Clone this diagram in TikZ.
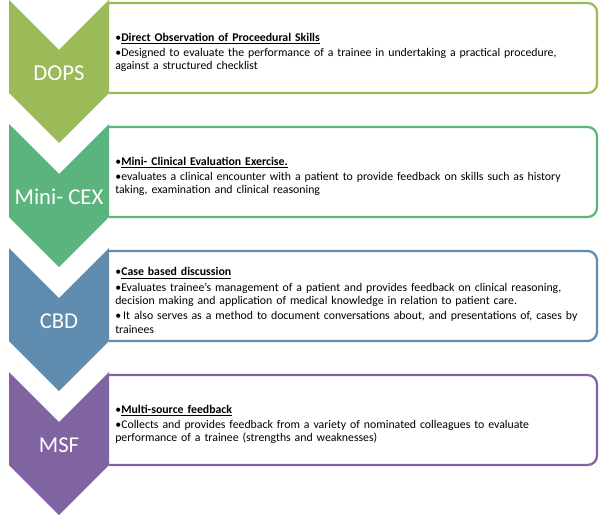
\documentclass[tikz,border=0pt]{standalone}
\usepackage{fontspec}
\setmainfont{Carlito}
\usepackage{tikz}
\usetikzlibrary{positioning}
\definecolor{AsmGreen}{RGB}{155,187,89}
\definecolor{AsmTeal}{RGB}{91,180,125}
\definecolor{AsmBlue}{RGB}{95,140,175}
\definecolor{AsmPurple}{RGB}{128,100,162}
\newcommand{\bitem}[1]{\par\hangindent=4.5pt\hangafter=1\noindent\makebox[4.5pt][l]{\textbullet}#1}

\begin{document}
\begin{tikzpicture}[x=0.75pt, y=-0.75pt,
          card/.style={draw=#1, line width=1.7pt, fill=white, rounded corners=7pt},
          chevlabel/.style={font=\fontsize{17}{20}\selectfont, text=white},
          info/.style={anchor=west, text width=370pt, inner sep=0pt, align=left,
                       font=\fontsize{8.85}{10}\selectfont,
                       execute at begin node={\setlength{\parskip}{1.5pt}}}
        ]
        \useasboundingbox (0,0) rectangle (600,517);

        % cards
        \draw[card=AsmGreen]  (109,3) -- (597,3) -- (597,93) -- (109,93);
        \draw[card=AsmTeal]   (109,127) -- (597,127) -- (597,217) -- (109,217);
        \draw[card=AsmBlue]   (109,251) -- (597,251) -- (597,341) -- (109,341);
        \draw[card=AsmPurple] (109,375) -- (597,375) -- (597,465) -- (109,465);

        % chevrons
        \fill[AsmGreen]  (9,0) -- (59,50) -- (109,0) -- (109,93) -- (59,143) -- (9,93) -- cycle;
        \fill[AsmTeal]   (9,124) -- (59,174) -- (109,124) -- (109,217) -- (59,267) -- (9,217) -- cycle;
        \fill[AsmBlue]   (9,248) -- (59,298) -- (109,248) -- (109,341) -- (59,391) -- (9,341) -- cycle;
        \fill[AsmPurple] (9,372) -- (59,422) -- (109,372) -- (109,465) -- (59,515) -- (9,465) -- cycle;

        \node[chevlabel] (dops) at (59,73)  {DOPS};
        \node[chevlabel] (cex)  at (59,197) {Mini- CEX};
        \node[chevlabel] (cbd)  at (59,321) {CBD};
        \node[chevlabel] (msf)  at (59,445) {MSF};

        \node[info] (dopsinfo) at (115,49)
              {\bitem{\textbf{\underline{Direct Observation of Proceedural Skills}}}
               \bitem{Designed to evaluate the performance of a trainee in undertaking a practical procedure,\\
                      against a structured checklist}};
        \node[info] (cexinfo) at (115,173)
              {\bitem{\textbf{\underline{Mini- Clinical Evaluation Exercise.}}}
               \bitem{evaluates a clinical encounter with a patient to provide feedback on skills such as history\\
                      taking, examination and clinical reasoning}};
        \node[info] (cbdinfo) at (115,297)
              {\bitem{\textbf{\underline{Case based discussion}}}
               \bitem{Evaluates trainee’s management of a patient and provides feedback on clinical reasoning,\\
                      decision making and application of medical knowledge in relation to patient care.}
               \bitem{\,It also serves as a method to document conversations about, and presentations of, cases by\\
                      trainees}};
        \node[info] (msfinfo) at (115,421)
              {\bitem{\textbf{\underline{Multi-source feedback}}}
               \bitem{Collects and provides feedback from a variety of nominated colleagues to evaluate\\
                      performance of a trainee (strengths and weaknesses)}};
      \end{tikzpicture}
\end{document}
